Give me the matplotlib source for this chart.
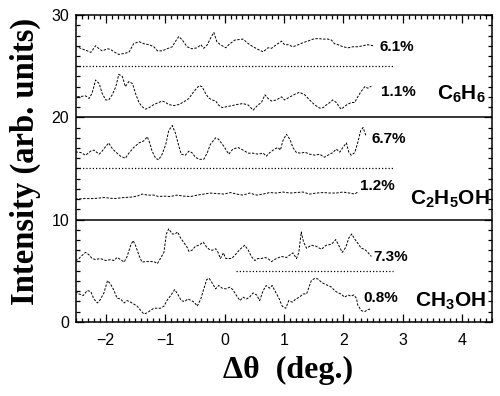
import matplotlib.pyplot as plt
from matplotlib.ticker import MultipleLocator

plt.rcParams['mathtext.fontset'] = 'custom'
plt.rcParams['mathtext.bf'] = 'Liberation Sans:bold'
plt.rcParams['mathtext.rm'] = 'Liberation Sans:bold'
plt.rcParams['mathtext.default'] = 'bf'

# --- data ---
# C6H6, 6.1% (top trace)
c1_x = [-2.51, -2.42, -2.31, -2.25, -2.17, -2.11, -2.06, -1.97, -1.92, -1.86, -1.78, -1.69,
        -1.61, -1.53, -1.44, -1.36, -1.27, -1.19, -1.13, -1.05, -0.97, -0.88, -0.83, -0.77,
        -0.71, -0.63, -0.55, -0.46, -0.40, -0.35, -0.29, -0.24, -0.18, -0.13, -0.07, 0.02,
        0.07, 0.17, 0.31, 0.40, 0.48, 0.56, 0.65, 0.73, 0.79, 0.87, 0.96, 1.01, 1.07, 1.15,
        1.24, 1.32, 1.40, 1.49, 1.57, 1.66, 1.74, 1.80, 1.85, 1.91, 1.99, 2.08, 2.16, 2.24,
        2.33, 2.41, 2.50]
c1_y = [27.0, 26.74, 26.5, 26.35, 27.0, 26.7, 26.5, 26.7, 26.65, 26.4, 26.15, 26.25,
        26.35, 27.2, 27.4, 27.2, 27.1, 26.9, 26.5, 26.5, 26.7, 26.9, 27.4, 27.9,
        27.55, 26.9, 26.7, 26.8, 27.1, 26.75, 27.1, 27.7, 28.3, 27.4, 27.1, 26.8,
        27.1, 27.55, 27.65, 27.2, 26.9, 26.65, 26.4, 26.8, 26.75, 27.1, 27.45, 27.1, 27.1, 26.9,
        27.1, 27.3, 27.45, 27.65, 27.7, 27.65, 27.65, 27.55, 27.2, 27.1, 26.9, 26.8, 26.9, 26.9,
        27.0, 27.1, 27.0]

# C6H6, 1.1%
c2_x = [-2.48, -2.34, -2.28, -2.23, -2.17, -2.11, -2.06, -2.00, -1.95, -1.89, -1.83, -1.78,
        -1.72, -1.67, -1.61, -1.55, -1.50, -1.44, -1.39, -1.33, -1.27, -1.19, -1.11, -1.05,
        -0.99, -0.94, -0.85, -0.77, -0.69, -0.60, -0.52, -0.43, -0.38, -0.32, -0.27, -0.21,
        -0.15, -0.10, -0.04, 0.04, 0.13, 0.20, 0.31, 0.40, 0.48, 0.56, 0.62, 0.68, 0.73,
        0.79, 0.87, 0.96, 1.01, 1.10, 1.18, 1.26, 1.35, 1.43, 1.52, 1.60, 1.66, 1.71, 1.77,
        1.82, 1.88, 1.96, 2.05, 2.13, 2.19, 2.24, 2.30, 2.36, 2.41, 2.47]
c2_y = [22.0, 22.1, 21.85, 22.35, 23.65, 23.3, 22.35, 21.7, 21.7, 22.2, 23.0, 24.2,
        24.0, 23.0, 23.5, 23.3, 22.35, 21.45, 21.05, 20.8, 20.95, 21.25, 21.45, 21.6,
        21.45, 21.25, 21.15, 21.25, 21.5, 21.85, 22.5, 23.1, 23.0, 22.35, 21.9, 21.7,
        21.6, 21.2, 20.95, 21.05, 21.15, 21.25, 21.35, 21.2, 20.7, 21.2, 21.45, 22.2, 21.85,
        21.6, 21.7, 22.0, 21.7, 22.0, 22.25, 22.45, 22.2, 21.7, 21.2, 20.9, 20.95, 21.2, 21.45,
        21.7, 21.45, 20.8, 21.2, 21.45, 21.45, 22.0, 22.55, 23.0, 22.85, 23.05]

# C2H5OH, 6.7%
c3_x = [-2.51, -2.42, -2.34, -2.25, -2.20, -2.11, -2.06, -2.00, -1.95, -1.89, -1.83, -1.75,
        -1.67, -1.61, -1.53, -1.44, -1.36, -1.30, -1.26, -1.22, -1.16, -1.11, -1.05, -0.99,
        -0.94, -0.88, -0.83, -0.77, -0.73, -0.66, -0.60, -0.55, -0.49, -0.43, -0.35, -0.29,
        -0.24, -0.15, -0.10, -0.01, 0.07, 0.14, 0.23, 0.31, 0.40, 0.48, 0.56, 0.65, 0.70,
        0.76, 0.84, 0.90, 0.94, 0.98, 1.04, 1.10, 1.15, 1.21, 1.29, 1.35, 1.43, 1.52, 1.60,
        1.68, 1.77, 1.82, 1.88, 1.94, 1.99, 2.05, 2.09, 2.13, 2.19, 2.24, 2.29, 2.33, 2.36, 2.38]
c3_y = [16.62, 16.56, 16.3, 16.7, 16.8, 16.4, 16.7, 17.15, 17.5, 16.95, 16.6, 16.2,
        16.0, 16.5, 17.05, 17.5, 17.7, 18.1, 17.5, 16.7, 16.0, 15.85, 16.4, 17.35,
        18.7, 19.2, 18.5, 17.2, 16.4, 16.3, 16.7, 16.55, 16.1, 15.9, 15.9, 16.55,
        17.35, 18.0, 17.85, 17.15, 16.4, 16.9, 17.05, 16.8, 16.5, 16.5, 16.4, 16.5, 16.2,
        16.55, 16.9, 17.05, 16.8, 17.7, 18.35, 17.85, 17.05, 16.55, 16.5, 16.6, 16.4, 16.3, 16.4,
        16.1, 16.4, 16.55, 16.9, 16.6, 17.05, 17.5, 16.6, 16.3, 16.55, 17.5, 18.7, 19.0, 18.5, 18.2]

# C2H5OH, 1.2%
c4_x = [-2.51, -2.37, -2.20, -2.03, -1.86, -1.69, -1.58, -1.47, -1.39, -1.30, -1.19, -1.11,
        -1.02, -0.91, -0.80, -0.69, -0.57, -0.46, -0.35, -0.24, -0.13, -0.01, 0.10, 0.20,
        0.31, 0.42, 0.54, 0.65, 0.76, 0.87, 0.98, 1.10, 1.21, 1.32, 1.43, 1.54, 1.66, 1.77,
        1.88, 1.99, 2.10, 2.19, 2.24]
c4_y = [12.0, 12.06, 12.06, 12.16, 12.06, 12.16, 12.2, 12.3, 12.5, 12.4, 12.4, 12.26,
        12.3, 12.26, 12.4, 12.3, 12.26, 12.4, 12.5, 12.6, 12.55, 12.5, 12.65, 12.5,
        12.4, 12.6, 12.4, 12.5, 12.65, 12.6, 12.7, 12.6, 12.65, 12.7, 12.5, 12.6, 12.65, 12.6,
        12.6, 12.7, 12.6, 12.5, 12.7]

# CH3OH, 7.3%
c5_x = [-2.51, -2.45, -2.39, -2.34, -2.28, -2.23, -2.17, -2.09, -2.00, -1.92, -1.86, -1.81,
        -1.75, -1.69, -1.64, -1.58, -1.54, -1.50, -1.44, -1.39, -1.33, -1.25, -1.19, -1.13,
        -1.08, -1.02, -0.98, -0.94, -0.88, -0.83, -0.79, -0.74, -0.69, -0.63, -0.60, -0.55,
        -0.49, -0.43, -0.36, -0.30, -0.26, -0.21, -0.15, -0.11, -0.07, -0.02, 0.02, 0.07,
        0.12, 0.17, 0.26, 0.34, 0.40, 0.45, 0.51, 0.56, 0.62, 0.68, 0.73, 0.79, 0.87, 0.96,
        1.04, 1.10, 1.15, 1.21, 1.25, 1.29, 1.33, 1.38, 1.46, 1.54, 1.63, 1.71, 1.80, 1.87,
        1.92, 1.98, 2.04, 2.09, 2.14, 2.19, 2.24, 2.30, 2.36, 2.41, 2.47]
c5_y = [6.0, 6.2, 6.55, 6.8, 6.55, 6.2, 6.1, 6.2, 6.0, 6.1, 6.0, 6.3,
        6.1, 5.85, 6.4, 7.5, 7.95, 7.5, 6.5, 5.85, 5.9, 5.9, 5.9, 5.7,
        6.2, 6.8, 8.6, 9.1, 8.6, 8.6, 8.8, 8.2, 7.8, 7.3, 6.9, 7.0,
        7.4, 7.5, 7.8, 7.3, 7.1, 7.0, 7.15, 6.8, 6.2, 6.75, 6.2, 6.2,
        6.2, 6.5, 7.1, 7.5, 7.0, 6.4, 6.0, 6.2, 6.2, 6.3, 6.2, 5.9, 6.2, 6.4,
        6.3, 6.55, 6.75, 6.2, 6.8, 8.8, 7.8, 7.2, 7.5, 7.4, 7.1, 7.5, 7.6, 8.05,
        7.5, 6.8, 7.3, 8.2, 8.6, 8.1, 7.7, 7.2, 7.1, 6.8, 6.4]

# CH3OH, 0.8%
c6_x = [-2.51, -2.45, -2.38, -2.31, -2.25, -2.20, -2.14, -2.09, -2.03, -1.97, -1.92, -1.86,
        -1.81, -1.75, -1.69, -1.64, -1.58, -1.53, -1.47, -1.41, -1.36, -1.30, -1.25, -1.19,
        -1.13, -1.08, -1.02, -0.97, -0.90, -0.84, -0.79, -0.73, -0.67, -0.62, -0.56, -0.51,
        -0.46, -0.40, -0.35, -0.30, -0.26, -0.21, -0.15, -0.10, -0.04, 0.02, 0.09, 0.14,
        0.20, 0.26, 0.31, 0.37, 0.42, 0.48, 0.54, 0.59, 0.65, 0.70, 0.76, 0.80, 0.86, 0.92,
        0.97, 1.03, 1.08, 1.14, 1.20, 1.26, 1.32, 1.38, 1.42, 1.46, 1.52, 1.57, 1.63, 1.68,
        1.74, 1.80, 1.85, 1.91, 1.96, 2.02, 2.08, 2.13, 2.17, 2.22, 2.24, 2.30, 2.36, 2.41, 2.47]
c6_y = [2.97, 2.74, 2.58, 3.07, 2.97, 2.25, 1.86, 2.19, 2.84, 4.04, 3.72, 3.07,
        2.32, 2.25, 1.86, 2.09, 1.93, 1.76, 1.54, 1.11, 0.79, 0.89, 1.11, 1.34,
        1.34, 1.34, 1.54, 2.09, 2.64, 3.16, 2.74, 2.09, 1.99, 2.25, 2.09, 1.93,
        1.54, 2.25, 3.23, 4.14, 4.27, 3.82, 3.23, 3.56, 3.30, 3.23, 3.4, 3.15,
        2.58, 2.09, 2.42, 2.25, 2.42, 2.84, 2.64, 2.09, 3.07, 3.56, 3.30, 3.56, 2.90, 2.25,
        1.54, 1.34, 2.09, 1.93, 2.25, 2.42, 2.74, 2.74, 3.4, 4.04, 4.27, 4.2, 3.88, 3.72,
        3.56, 3.4, 3.07, 2.84, 2.74, 2.42, 2.64, 2.51, 2.64, 2.32, 1.67, 1.11, 1.01, 1.21, 1.28]

traces = [(c1_x, c1_y), (c2_x, c2_y), (c3_x, c3_y), (c4_x, c4_y), (c5_x, c5_y), (c6_x, c6_y)]

# baselines (dotted) and panel separators (solid)
base_y = [25, 15, 5]
base_x0 = [-2.5, -2.5, 0.2]
base_x1 = [2.85, 2.85, 2.83]
sep_y = [10, 20]

# annotations
pct_text = ['6.1%', '1.1%', '6.7%', '1.2%', '7.3%', '0.8%']
pct_x = [2.6, 2.64, 2.47, 2.28, 2.5, 2.33]
pct_y = [26.9, 22.5, 17.9, 13.3, 6.35, 2.3]
mol_text = ['C$_6$H$_6$', 'C$_2$H$_5$OH', 'CH$_3$OH']
mol_x = [3.58, 3.12, 3.2]
mol_y = [22.2, 12.0, 2.0]

# --- plot ---
fig = plt.figure(figsize=(5, 3.96), dpi=100)
ax = fig.add_axes([0.152, 0.187, 0.832, 0.775])

for xs, ys in traces:
    ax.plot(xs, ys, color='black', lw=0.7, ls=(0, (2.5, 1.5)))

for y, a, b in zip(base_y, base_x0, base_x1):
    ax.plot([a, b], [y, y], color='black', lw=0.9, ls=(0, (1, 1.6)))
for y in sep_y:
    ax.axhline(y, color='black', lw=1.1)

for t, x, y in zip(pct_text, pct_x, pct_y):
    ax.text(x, y, t, fontsize=11, fontweight='bold', family='Liberation Sans',
            ha='left', va='center')
for t, x, y in zip(mol_text, mol_x, mol_y):
    ax.text(x, y, t, fontsize=15, fontweight='bold', family='Liberation Sans',
            ha='left', va='center')

ax.set_xlim(-2.5, 4.5)
ax.set_ylim(0, 30)
ax.xaxis.set_major_locator(MultipleLocator(1))
ax.xaxis.set_minor_locator(MultipleLocator(0.1))
ax.yaxis.set_major_locator(MultipleLocator(10))
ax.yaxis.set_minor_locator(MultipleLocator(1))
ax.tick_params(which='both', direction='in', top=True, right=True, width=0.9)
ax.tick_params(which='major', length=6)
ax.tick_params(which='minor', length=3)
ax.tick_params(axis='x', pad=8)
ax.tick_params(axis='y', pad=5)
for lab in ax.get_xticklabels() + ax.get_yticklabels():
    lab.set_fontfamily('Liberation Sans')
    lab.set_fontsize(11.5)
for sp in ax.spines.values():
    sp.set_linewidth(1.1)

ax.set_xlabel('Δθ  (deg.)', fontsize=23, fontweight='bold', family='Liberation Serif')
ax.set_ylabel('Intensity (arb. units)', fontsize=23.5, fontweight='bold', family='Liberation Serif')
ax.xaxis.set_label_coords(0.51, -0.11)
ax.yaxis.set_label_coords(-0.085, 0.524)

fig.savefig('out.png', dpi=100)
